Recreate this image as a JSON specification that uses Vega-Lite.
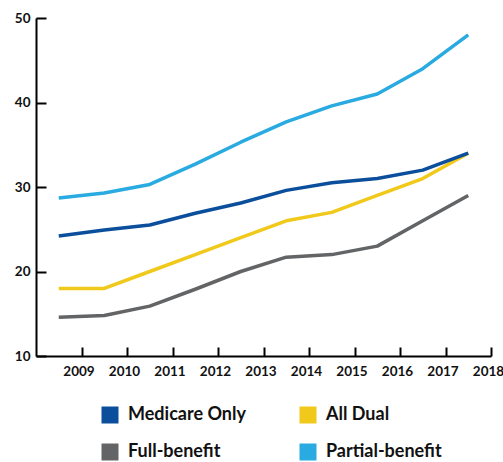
{
  "$schema": "https://vega.github.io/schema/vega-lite/v6.json",
  "width": 455,
  "height": 338,
  "autosize": {"type": "none"},
  "padding": {"left": 36, "top": 18, "right": 12, "bottom": 106},
  "config": {"view": {"stroke": null}, "font": "Lato"},
  "data": {
    "values": [
      {"year": 2008.5, "series": "Full-benefit", "value": 14.6},
      {"year": 2009.5, "series": "Full-benefit", "value": 14.8},
      {"year": 2010.5, "series": "Full-benefit", "value": 15.9},
      {"year": 2011.5, "series": "Full-benefit", "value": 17.9},
      {"year": 2012.5, "series": "Full-benefit", "value": 20.0},
      {"year": 2013.5, "series": "Full-benefit", "value": 21.7},
      {"year": 2014.5, "series": "Full-benefit", "value": 22.0},
      {"year": 2015.5, "series": "Full-benefit", "value": 23.0},
      {"year": 2016.5, "series": "Full-benefit", "value": 26.0},
      {"year": 2017.5, "series": "Full-benefit", "value": 29.0},
      {"year": 2008.5, "series": "Partial-benefit", "value": 28.7},
      {"year": 2009.5, "series": "Partial-benefit", "value": 29.3},
      {"year": 2010.5, "series": "Partial-benefit", "value": 30.3},
      {"year": 2011.5, "series": "Partial-benefit", "value": 32.7},
      {"year": 2012.5, "series": "Partial-benefit", "value": 35.3},
      {"year": 2013.5, "series": "Partial-benefit", "value": 37.7},
      {"year": 2014.5, "series": "Partial-benefit", "value": 39.6},
      {"year": 2015.5, "series": "Partial-benefit", "value": 41.0},
      {"year": 2016.5, "series": "Partial-benefit", "value": 44.0},
      {"year": 2017.5, "series": "Partial-benefit", "value": 48.0},
      {"year": 2008.5, "series": "All Dual", "value": 18.0},
      {"year": 2009.5, "series": "All Dual", "value": 18.0},
      {"year": 2010.5, "series": "All Dual", "value": 20.0},
      {"year": 2011.5, "series": "All Dual", "value": 22.0},
      {"year": 2012.5, "series": "All Dual", "value": 24.0},
      {"year": 2013.5, "series": "All Dual", "value": 26.0},
      {"year": 2014.5, "series": "All Dual", "value": 27.0},
      {"year": 2015.5, "series": "All Dual", "value": 29.0},
      {"year": 2016.5, "series": "All Dual", "value": 31.0},
      {"year": 2017.5, "series": "All Dual", "value": 34.0},
      {"year": 2008.5, "series": "Medicare Only", "value": 24.2},
      {"year": 2009.5, "series": "Medicare Only", "value": 24.9},
      {"year": 2010.5, "series": "Medicare Only", "value": 25.5},
      {"year": 2011.5, "series": "Medicare Only", "value": 26.9},
      {"year": 2012.5, "series": "Medicare Only", "value": 28.1},
      {"year": 2013.5, "series": "Medicare Only", "value": 29.6},
      {"year": 2014.5, "series": "Medicare Only", "value": 30.5},
      {"year": 2015.5, "series": "Medicare Only", "value": 31.0},
      {"year": 2016.5, "series": "Medicare Only", "value": 32.0},
      {"year": 2017.5, "series": "Medicare Only", "value": 34.0}
    ]
  },
  "mark": {"type": "line", "strokeWidth": 3.5, "strokeJoin": "round"},
  "encoding": {
    "x": {
      "field": "year",
      "type": "quantitative",
      "scale": {"domain": [2008, 2018], "nice": false, "zero": false},
      "axis": {
        "title": null,
        "values": [2009, 2010, 2011, 2012, 2013, 2014, 2015, 2016, 2017, 2018],
        "format": "d",
        "grid": false,
        "domainColor": "#000000",
        "domainWidth": 2,
        "tickColor": "#000000",
        "tickWidth": 2,
        "tickSize": -9,
        "labelPadding": 17,
        "labelOffset": -3,
        "labelFont": "Lato",
        "labelFontWeight": "bold",
        "labelFontSize": 13.5,
        "labelColor": "#111111",
        "labelFlush": false
      }
    },
    "y": {
      "field": "value",
      "type": "quantitative",
      "scale": {"domain": [10, 50], "nice": false, "zero": false},
      "axis": {
        "title": null,
        "values": [10, 20, 30, 40, 50],
        "grid": false,
        "domainColor": "#000000",
        "domainWidth": 2,
        "tickColor": "#000000",
        "tickWidth": 2,
        "tickSize": -10,
        "labelPadding": 16,
        "labelFont": "Lato",
        "labelFontWeight": "bold",
        "labelFontSize": 13.5,
        "labelColor": "#111111",
        "labelFlush": false
      }
    },
    "color": {
      "field": "series",
      "type": "nominal",
      "scale": {
        "domain": ["Medicare Only", "Full-benefit", "All Dual", "Partial-benefit"],
        "range": ["#0b4f9c", "#636466", "#f0c91b", "#29aae1"]
      },
      "legend": {
        "title": null,
        "orient": "none",
        "legendX": 65,
        "legendY": 388,
        "columns": 2,
        "columnPadding": 53,
        "rowPadding": 19,
        "padding": 0,
        "symbolType": "square",
        "symbolSize": 289,
        "symbolStrokeWidth": 0,
        "symbolOffset": 0,
        "labelOffset": 9,
        "labelFont": "Lato",
        "labelFontWeight": "bold",
        "labelFontSize": 18,
        "labelColor": "#111111",
        "labelLimit": 300,
        "encode": {
          "symbols": {"update": {"fill": {"scale": "color", "field": "value"}, "strokeWidth": {"value": 0}}}
        }
      }
    }
  }
}
